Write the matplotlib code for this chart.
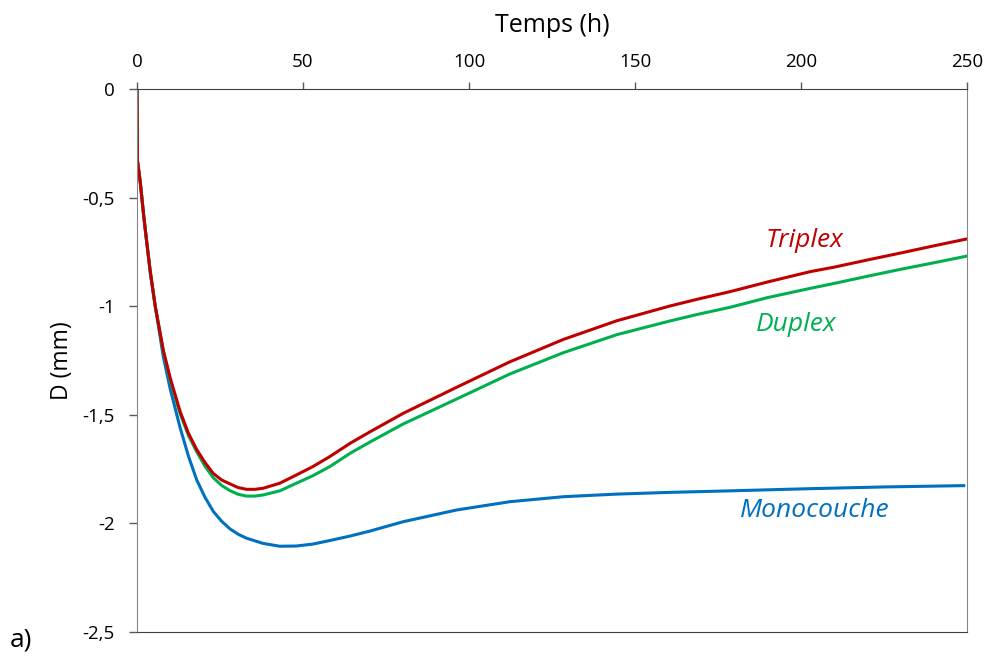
import matplotlib.pyplot as plt

# Temps (h) / D (mm)
t_triplex = [0, 0.15, 1, 2, 2.9, 4, 5.5, 7.9, 10, 13, 15.5, 18, 20.5, 23, 25.5, 28, 30.5,
             33, 35.5, 38, 43, 48, 53, 58, 64.2, 70.2, 80.2, 96.3, 112.3, 128.4, 144.5,
             160.5, 169, 178.6, 190, 202.7, 210, 220, 230, 240, 250]
d_triplex = [0, -0.33, -0.43, -0.58, -0.70, -0.84, -1.0, -1.20, -1.33, -1.485, -1.585, -1.66,
             -1.72, -1.77, -1.80, -1.818, -1.835, -1.843, -1.843, -1.838, -1.815, -1.777,
             -1.738, -1.693, -1.631, -1.578, -1.493, -1.373, -1.256, -1.153, -1.067,
             -0.999, -0.967, -0.933, -0.888, -0.841, -0.82, -0.787, -0.755, -0.722, -0.69]

t_duplex = t_triplex
d_duplex = [0, -0.33, -0.43, -0.58, -0.70, -0.84, -1.0, -1.205, -1.34, -1.495, -1.595, -1.67,
            -1.737, -1.79, -1.825, -1.849, -1.866, -1.874, -1.874, -1.869, -1.85, -1.815,
            -1.78, -1.739, -1.677, -1.625, -1.542, -1.427, -1.312, -1.214, -1.131,
            -1.068, -1.037, -1.005, -0.96, -0.918, -0.895, -0.862, -0.83, -0.80, -0.769]

t_mono = [0, 0.15, 1, 2, 2.9, 4, 5.5, 7.9, 10, 13, 15.5, 18, 20.5, 23, 25.5, 28, 30.5, 33,
          38, 43, 48, 53, 58, 64.2, 70.2, 80.2, 96.3, 112.3, 128.4, 144.5, 160.5, 178.6,
          202.7, 225, 249]
d_mono = [0, -0.33, -0.43, -0.58, -0.70, -0.845, -1.0, -1.23, -1.38, -1.56, -1.69, -1.80,
          -1.88, -1.945, -1.99, -2.025, -2.05, -2.068, -2.092, -2.105, -2.104, -2.095,
          -2.079, -2.058, -2.035, -1.992, -1.938, -1.90, -1.877, -1.865, -1.857, -1.85,
          -1.84, -1.832, -1.826]

x_ticks = [0, 50, 100, 150, 200, 250]
y_ticks = [0, -0.5, -1, -1.5, -2, -2.5]
y_tick_labels = ["0", "-0,5", "-1", "-1,5", "-2", "-2,5"]

plt.rcParams["font.family"] = ["Open Sans", "DejaVu Sans"]

fig = plt.figure(figsize=(9.89, 6.57), dpi=100)
ax = fig.add_axes([0.1385, 0.038, 0.8393, 0.8265])

red = "#C00000"
green = "#00B050"
blue = "#0070C0"

ax.plot(t_mono, d_mono, color=blue, lw=2.2, solid_joinstyle="round")
ax.plot(t_duplex, d_duplex, color=green, lw=2.2, solid_joinstyle="round")
ax.plot(t_triplex, d_triplex, color=red, lw=2.2, solid_joinstyle="round")

ax.set_xlim(0, 250)
ax.set_ylim(-2.5, 0)
ax.xaxis.tick_top()
ax.xaxis.set_label_position("top")
ax.set_xticks(x_ticks)
ax.set_yticks(y_ticks)
ax.set_yticklabels(y_tick_labels)
ax.tick_params(axis="both", labelsize=13.5, colors="#595959", labelcolor="black", width=1)
ax.tick_params(axis="x", length=5, pad=8)
ax.tick_params(axis="y", length=6, pad=10)

ax.set_xlabel("Temps (h)", fontsize=18, labelpad=15)
ax.set_ylabel("D (mm)", fontsize=16.5, labelpad=6)

for side in ["left", "right"]:
    ax.spines[side].set_color("#868686")
ax.spines["top"].set_color("#404040")
ax.spines["bottom"].set_color("#404040")

ax.text(200.9, -0.727, "Triplex", color=red, fontsize=19, style="italic",
        ha="center", va="baseline")
ax.text(198.6, -1.113, "Duplex", color=green, fontsize=19, style="italic",
        ha="center", va="baseline")
ax.text(204.2, -1.972, "Monocouche", color=blue, fontsize=19, style="italic",
        ha="center", va="baseline")

fig.text(0.01, 0.016, "a)", fontsize=19, va="baseline")

fig.savefig("out.png", dpi=100)
